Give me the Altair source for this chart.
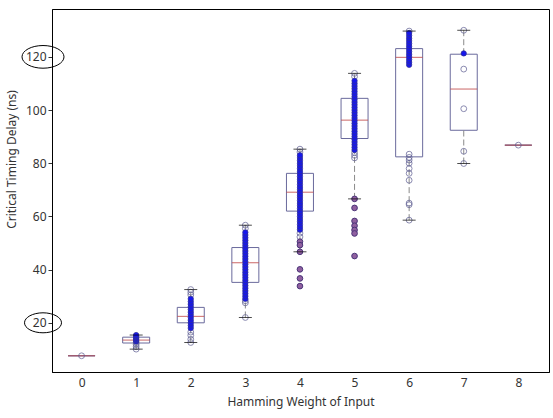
import altair as alt
import pandas as pd

# ---- box statistics per Hamming weight ----
hw = [0, 1, 2, 3, 4, 5, 6, 7, 8]
q1 = [7.6, 12.4, 20.0, 35.2, 62.0, 89.3, 82.4, 92.4, 86.8]
med = [7.6, 13.5, 22.4, 42.6, 69.1, 96.2, 119.8, 107.9, 86.8]
q3 = [7.6, 14.6, 25.8, 48.3, 76.2, 104.4, 123.1, 121.0, 86.8]
wlo = [7.6, 10.1, 12.6, 22.0, 46.7, 66.6, 58.6, 79.9, 86.8]
whi = [7.6, 15.4, 32.5, 56.7, 85.3, 113.8, 129.7, 130.0, 86.8]

# ---- individual observations (open circles / dense blue / purple) ----
open_pts = {
    0: [7.6],
    1: [10.1, 11.0, 11.8, 12.5],
    2: [12.6, 13.8, 15.3, 16.5, 30.5, 31.5, 32.5],
    3: [22.0, 27.5, 28.3, 55.5, 56.7],
    4: [85.3, 84.2, 53.7, 52.3],
    5: [113.8, 112.6, 84.0, 83.0, 82.0],
    6: [129.7, 83.4, 82.2, 81.2, 80.0, 78.0, 76.2, 73.6, 65.0, 64.4, 58.6],
    7: [130.0, 115.4, 100.5, 84.5, 79.9],
    8: [86.8],
}
dense_pts = {
    1: [13.0, 13.4, 13.8, 14.2, 14.6, 15.0, 15.4],
    2: [18, 19, 20, 21, 22, 23, 24, 25, 26, 27, 28, 29],
    3: [29, 30, 31, 32, 33, 34, 35, 36, 37, 38, 39, 40, 41, 42, 43, 44, 45,
        46, 47, 48, 49, 50, 51, 52, 53, 54],
    4: [55, 56, 57, 58, 59, 60, 61, 62, 63, 64, 65, 66, 67, 68, 69, 70, 71,
        72, 73, 74, 75, 76, 77, 78, 79, 80, 81, 82, 83],
    5: [85, 86, 87, 88, 89, 90, 91, 92, 93, 94, 95, 96, 97, 98, 99, 100, 101,
        102, 103, 104, 105, 106, 107, 108, 109, 110, 111],
    6: [117.0, 118.0, 119.0, 120.0, 121.0, 122.0, 123.0, 124.0, 125.0, 126.0,
        127.0, 128.0, 129.0],
    7: [121.3],
}
purple_pts = {
    4: [50.5, 49.2, 46.7, 40.1, 36.7, 33.8],
    5: [66.6, 63.2, 58.3, 56.5, 54.9, 53.6, 45.1],
}

# annotation ellipses around tick labels
ellipse_vals = [120, 20]

stats = pd.DataFrame({"hw": hw, "q1": q1, "med": med, "q3": q3,
                      "wlo": wlo, "whi": whi})


def to_df(d):
    rows = [{"hw": k, "v": v} for k, vs in d.items() for v in vs]
    return pd.DataFrame(rows)


df_open = to_df(open_pts)
df_dense = to_df(dense_pts)
df_purple = to_df(purple_pts)

xs = alt.Scale(domain=[-0.45, 8.47], nice=False, zero=False)
ys = alt.Scale(domain=[1.5, 138], nice=False, zero=False)

X = alt.X("hw:Q", scale=xs, title="Hamming Weight of Input",
          axis=alt.Axis(values=hw, tickSize=0, labelPadding=5, grid=False,
                        domainColor="black", labelFont="Noto Sans",
                        labelFontSize=12, labelColor="#333",
                        titleFont="Noto Sans", titleFontSize=12,
                        titleFontWeight="normal", titleColor="#333",
                        titlePadding=8, format="d"))
Y = alt.Y("q1:Q", scale=ys, title="Critical Timing Delay  (ns)",
          axis=alt.Axis(values=[20, 40, 60, 80, 100, 120], tickSize=4,
                        tickColor="#333", grid=False, domainColor="black",
                        labelFont="Noto Sans", labelFontSize=12,
                        labelColor="#333", labelPadding=2,
                        titleFont="Noto Sans", titleFontSize=12,
                        titleFontWeight="normal", titleColor="#333",
                        titleX=-34, titleY=150))

base = alt.Chart(stats)

boxes = base.mark_bar(size=27, fill="white", fillOpacity=0, stroke="#6a6a9c",
                      strokeWidth=1).encode(x=X, y=Y, y2="q3:Q")

whisk_hi = base.mark_rule(color="#8a8a8a", strokeDash=[6, 3],
                          strokeWidth=1).encode(
    x=alt.X("hw:Q", scale=xs), y=alt.Y("q3:Q", scale=ys), y2="whi:Q")
whisk_lo = base.mark_rule(color="#8a8a8a", strokeDash=[6, 3],
                          strokeWidth=1).encode(
    x=alt.X("hw:Q", scale=xs), y=alt.Y("wlo:Q", scale=ys), y2="q1:Q")

medians = base.mark_tick(orient="horizontal", size=27, thickness=1.2,
                         color="#c04a4a").encode(
    x=alt.X("hw:Q", scale=xs), y=alt.Y("med:Q", scale=ys))

p_open = alt.Chart(df_open).mark_point(shape="circle", filled=False,
                                       stroke="#5a5a90", strokeWidth=1,
                                       size=34).encode(
    x=alt.X("hw:Q", scale=xs), y=alt.Y("v:Q", scale=ys))
p_dense = alt.Chart(df_dense).mark_point(shape="circle", filled=True,
                                         fill="#1616ee", stroke="#30309a",
                                         strokeWidth=0.8, size=28,
                                         opacity=1).encode(
    x=alt.X("hw:Q", scale=xs), y=alt.Y("v:Q", scale=ys))
p_purple = alt.Chart(df_purple).mark_point(shape="circle", filled=True,
                                           fill="#9060a0", stroke="#4a3478",
                                           strokeWidth=1, size=32,
                                           opacity=1).encode(
    x=alt.X("hw:Q", scale=xs), y=alt.Y("v:Q", scale=ys))

caps_hi = base.transform_filter("datum.whi > datum.q3").mark_tick(
    orient="horizontal", size=13, thickness=1, color="black").encode(
    x=alt.X("hw:Q", scale=xs), y=alt.Y("whi:Q", scale=ys))
caps_lo = base.transform_filter("datum.wlo < datum.q1").mark_tick(
    orient="horizontal", size=13, thickness=1, color="black").encode(
    x=alt.X("hw:Q", scale=xs), y=alt.Y("wlo:Q", scale=ys))

ell_path = "M -1 0 A 1 0.54 0 1 1 1 0 A 1 0.54 0 1 1 -1 0 Z"
df_ell = pd.DataFrame({"v": ellipse_vals, "w": [1764, 1369]})
ellipses = alt.Chart(df_ell).mark_point(shape=ell_path, filled=False,
                                        stroke="black", strokeWidth=1,
                                        opacity=1, clip=False).encode(
    x=alt.value(-9),
    y=alt.Y("v:Q", scale=ys),
    size=alt.Size("w:Q", scale=None, legend=None))

chart = alt.layer(boxes, whisk_hi, whisk_lo, medians, p_open, p_dense,
                  p_purple, caps_hi, caps_lo, ellipses).properties(
    width=497, height=363,
    autosize=alt.AutoSizeParams(type="none"),
    padding={"left": 52, "top": 9, "right": 4, "bottom": 46},
    background="white",
).configure_view(stroke="black", strokeWidth=1)

chart.save("out.html", embed_options={"renderer": "svg", "actions": False})
